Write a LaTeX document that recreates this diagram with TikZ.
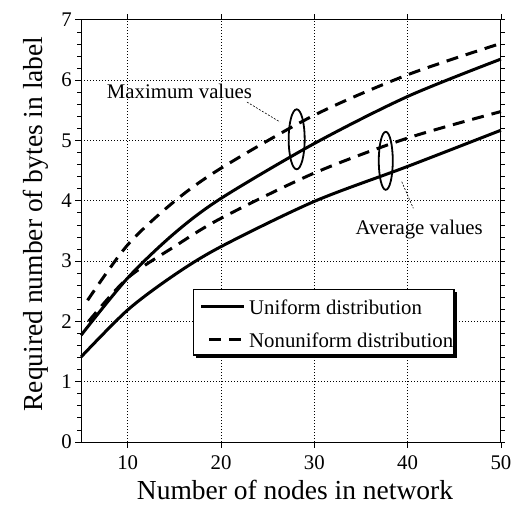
\documentclass[tikz,border=0pt]{standalone}
\usepackage{fontspec}
\setmainfont{Liberation Serif}
\usetikzlibrary{shapes.geometric,shadows}
\begin{document}
\begin{tikzpicture}[
    unif/.style={line width=3pt},
    nonunif/.style={line width=3pt, dash pattern=on 12pt off 8pt},
    gridline/.style={line width=0.6pt, dash pattern=on 1.2pt off 1.8pt},
    ring/.style={draw, ellipse, line width=1.8pt, inner sep=0pt},
    leader/.style={line width=0.6pt, dash pattern=on 2pt off 1.5pt},
    ticklabel/.style={inner sep=0pt, font=\fontsize{20.8}{24}\selectfont},
    notelabel/.style={inner sep=0pt, font=\fontsize{20.8}{24}\selectfont},
    axislabel/.style={inner sep=0pt, font=\fontsize{27.5}{32}\selectfont},
    legendbox/.style={draw, fill=white, line width=1.2pt, minimum width=260.7pt, minimum height=65.7pt,
      drop shadow={fill=black, opacity=1, shadow xshift=3pt, shadow yshift=-3pt}}
  ]
  \fill[white] (0,0) rectangle (513pt,506pt);
  \useasboundingbox (0,0) rectangle (513pt,506pt);
  \begin{scope}[x=9.33pt, y=60.3pt, shift={(34.4pt,64pt)}]
    % grid
    \foreach \x in {10,20,30,40} \draw[gridline] (\x,0) -- (\x,7);
    \foreach \y in {1,...,6} \draw[gridline] (5,\y) -- (50,\y);

    % frame and ticks
    \draw[line width=1pt] (5,0) rectangle (50,7);
    \foreach \k in {0,...,35} \draw[line width=0.8pt] (5,\k/5) -- ++(-4pt,0) (50,\k/5) -- ++(4pt,0);
    \foreach \y in {0,...,7}
      \draw[line width=0.8pt] (5,\y) -- ++(-6pt,0) node[ticklabel, anchor=east, xshift=-3pt] (ylab\y) {\y};
    \foreach \x in {10,20,...,50} {
      \draw[line width=0.8pt] (\x,7) -- ++(0,6pt);
      \draw[line width=0.8pt] (\x,0) -- ++(0,-6pt) node[ticklabel, anchor=north, yshift=-7pt] (xlab\x) {\x};
    }

    % curves
    \draw[unif] plot[smooth] coordinates {(5,1.77) (10,2.72) (15,3.46) (20,4.04) (30,4.95) (40,5.73) (50,6.35)};
    \draw[unif] plot[smooth] coordinates {(5,1.41) (10,2.19) (15,2.77) (20,3.24) (30,3.99) (40,4.57) (50,5.17)};
    \draw[nonunif] plot[smooth] coordinates {(5.7,2.35) (10,3.27) (15,3.99) (20,4.54) (30,5.42) (40,6.09) (50,6.61)};
    \draw[nonunif] plot[smooth] coordinates {(5.8,2.0) (10,2.72) (15,3.24) (20,3.71) (30,4.46) (40,5.04) (50,5.48)};

    % legend
    \node[legendbox] (legend) at (31,1.988) {};
    \draw[unif] ([xshift=8.4pt,yshift=-17.4pt]legend.north west) -- ++(43.3pt,0)
      node[notelabel, anchor=base west, xshift=3.3pt, yshift=-8.3pt] (unilab) {Uniform distribution};
    \draw[nonunif] ([xshift=16.7pt,yshift=-50.7pt]legend.north west) -- ++(33.3pt,0)
      node[notelabel, anchor=base west, xshift=5pt, yshift=-8.3pt] (nonlab) {Nonuniform distribution};

    % rings and notes
    \node[ring, minimum width=16pt, minimum height=60pt] (maxring) at (28.11,5.02) {};
    \node[ring, minimum width=14pt, minimum height=58pt] (avgring) at (37.66,4.663) {};
    \node[notelabel, anchor=base] (maxlab) at (15.55,5.70) {Maximum values};
    \node[notelabel, anchor=base] (avglab) at (41.24,3.433) {Average values};
    \coordinate (maxa) at (22.78,5.638);
    \coordinate (maxb) at (26.32,5.307);
    \coordinate (avga) at (39.37,4.317);
    \coordinate (avgb) at (40.61,3.876);
    \draw[leader] (maxa) -- (maxb);
    \draw[leader] (avga) -- (avgb);

    % axis titles
    \node[axislabel, anchor=base] (xtitle) at (27.93,-0.95) {Number of nodes in network};
    \node[axislabel, anchor=base, rotate=90] (ytitle) at (0.92,3.615) {Required number of bytes in label};
  \end{scope}
\end{tikzpicture}
\end{document}
